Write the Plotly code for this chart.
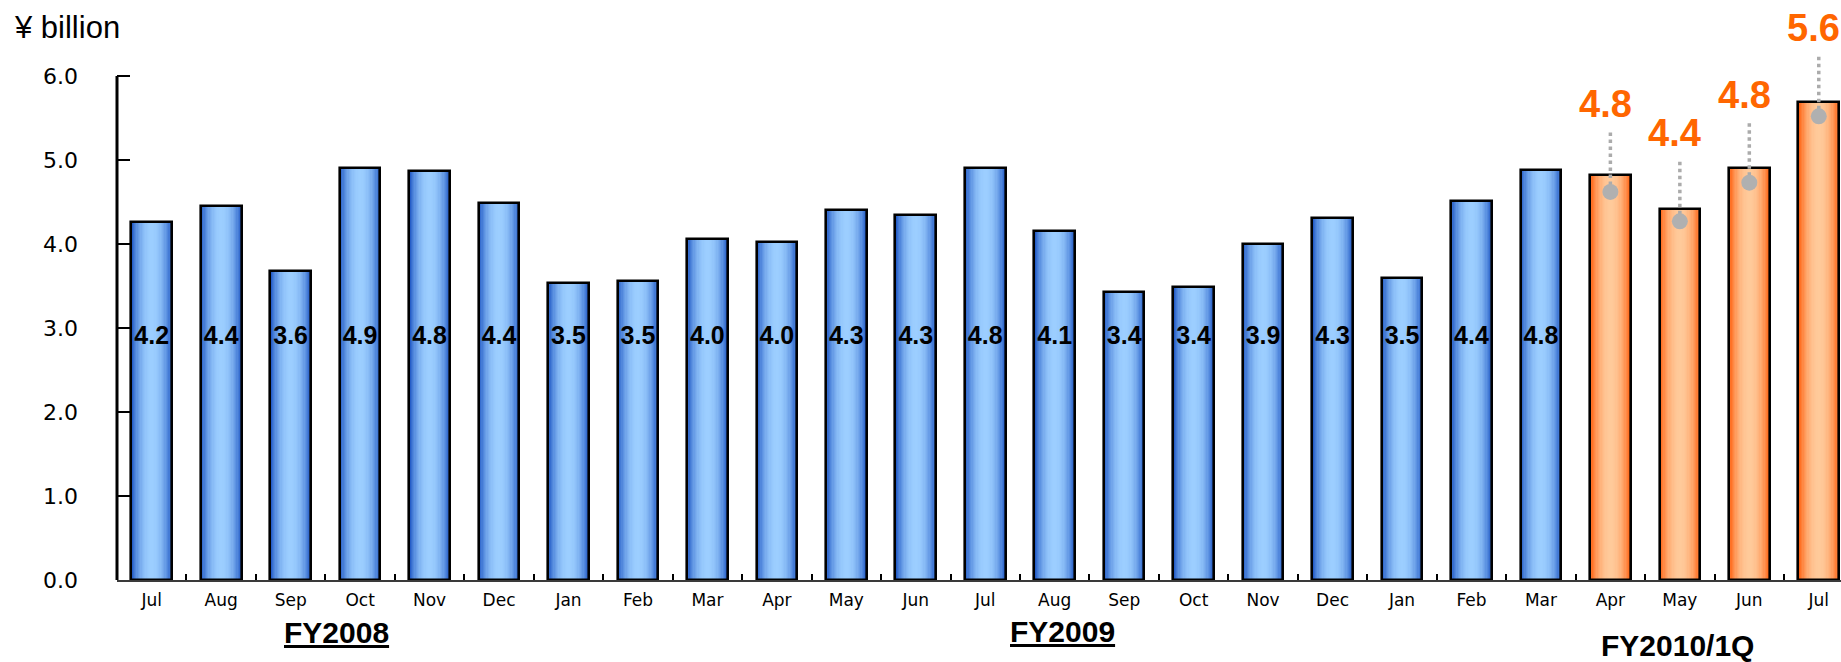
import plotly.graph_objects as go

# ---------------- data ----------------
months = ["Jul", "Aug", "Sep", "Oct", "Nov", "Dec", "Jan", "Feb", "Mar",
          "Apr", "May", "Jun", "Jul", "Aug", "Sep", "Oct", "Nov", "Dec", "Jan", "Feb", "Mar",
          "Apr", "May", "Jun", "Jul"]
fiscal = ["FY2008"] * 9 + ["FY2009"] * 12 + ["FY2010/1Q"] * 4
bar_values = [4.26, 4.45, 3.68, 4.91, 4.87, 4.49, 3.54, 3.56, 4.06,
              4.02, 4.40, 4.34, 4.91, 4.15, 3.43, 3.49, 4.00, 4.31, 3.60, 4.51, 4.88,
              4.82, 4.42, 4.91, 5.69]
reported_values = [4.2, 4.4, 3.6, 4.9, 4.8, 4.4, 3.5, 3.5, 4.0,
                   4.0, 4.3, 4.3, 4.8, 4.1, 3.4, 3.4, 3.9, 4.3, 3.5, 4.4, 4.8,
                   4.8, 4.4, 4.8, 5.6]
point_values = [None] * 21 + [4.62, 4.27, 4.73, 5.52]
group_labels = ["FY2008", "FY2009", "FY2010/1Q"]
yticks = [0, 1, 2, 3, 4, 5, 6]

# ---------------- style ----------------
BAR_W = 0.585
EDGE = {"blue": (38, 94, 200), "orange": (255, 100, 20)}
CENTER = {"blue": (156, 206, 255), "orange": (255, 202, 154)}
N_LAYERS = 16
LABEL_Y = 2.88
STEM = 0.72
LABEL_OFFSET = 1.05
FONT_WIDE = "DejaVu Sans"
FONT_BOLD = "Liberation Sans"

x = list(range(len(months)))
kind = ["orange" if f == "FY2010/1Q" else "blue" for f in fiscal]


def mix(c1, c2, t):
    return "rgb(%d,%d,%d)" % tuple(round(a + (b - a) * t) for a, b in zip(c1, c2))


fig = go.Figure()

# gradient bars: nested overlay layers
for k in range(N_LAYERS):
    f = 1 - k / N_LAYERS
    g = f ** 2.2
    colors = [mix(CENTER[c], EDGE[c], g) for c in kind]
    fig.add_bar(x=x, y=bar_values, width=BAR_W * f,
                marker=dict(color=colors, line=dict(width=0)),
                hoverinfo="skip", showlegend=False)

# outline
fig.add_bar(x=x, y=bar_values, width=BAR_W,
            marker=dict(color="rgba(0,0,0,0)", line=dict(color="black", width=2.6)),
            hoverinfo="skip", showlegend=False)

# inner labels for blue bars
bx = [xi for xi, c in zip(x, kind) if c == "blue"]
bt = ["%.1f" % v for v, c in zip(reported_values, kind) if c == "blue"]
fig.add_scatter(x=bx, y=[LABEL_Y] * len(bx), mode="text", text=bt,
                textposition="middle center",
                textfont=dict(family=FONT_BOLD, size=25, color="black", weight="bold"),
                hoverinfo="skip", showlegend=False, cliponaxis=False)

# dotted stems for orange bars
ox = [xi for xi, p in zip(x, point_values) if p is not None]
op = [p for p in point_values if p is not None]
ot = ["%.1f" % v for v, p in zip(reported_values, point_values) if p is not None]
sx, sy = [], []
for xi, p in zip(ox, op):
    sx += [xi, xi, None]
    sy += [p, p + STEM, None]
fig.add_scatter(x=sx, y=sy, mode="lines",
                line=dict(color="#ababab", width=3.5, dash="dot"),
                hoverinfo="skip", showlegend=False)
fig.add_scatter(x=ox, y=op, mode="markers",
                marker=dict(size=16, color="#b0b0b0", line=dict(width=0)),
                hoverinfo="skip", showlegend=False, cliponaxis=False)
for xi, p, t in zip(ox, op, ot):
    fig.add_annotation(x=xi, y=p + LABEL_OFFSET, xref="x", yref="y", text=t,
                       showarrow=False, xanchor="center", yanchor="middle", xshift=-5,
                       font=dict(family=FONT_BOLD, size=38, color="#ff6600", weight="bold"))

# y axis line only up to 6.0
fig.add_shape(type="line", xref="paper", x0=0, x1=0, yref="y", y0=0, y1=max(yticks),
              line=dict(color="black", width=3))

# fiscal group labels
group_pos = {"FY2008": (2.66, -52, True), "FY2009": (13.11, -51, True),
             "FY2010/1Q": (21.96, -65, False)}
for name in group_labels:
    gx, ys, ul = group_pos[name]
    fig.add_annotation(x=gx, xref="x", y=0, yref="paper", yshift=ys,
                       text=("<u>%s</u>" % name) if ul else name, showarrow=False,
                       xanchor="center", yanchor="middle",
                       font=dict(family=FONT_BOLD, size=30, color="black", weight="bold"))

fig.add_annotation(x=0, xref="paper", xshift=-105, xanchor="left",
                   y=1, yref="paper", yshift=-27, yanchor="middle",
                   text="¥ billion", showarrow=False,
                   font=dict(family=FONT_BOLD, size=31, color="black"))

fig.update_layout(
    width=1841, height=662,
    margin=dict(l=117, r=0, t=0, b=82),
    paper_bgcolor="white", plot_bgcolor="white",
    barmode="overlay", bargap=0, showlegend=False,
    xaxis=dict(range=[-0.5, 24.32], tickmode="array", tickvals=x, ticktext=months,
               ticks="", showgrid=False, zeroline=False,
               showline=True, linecolor="#3a3a3a", linewidth=2,
               tickfont=dict(family=FONT_WIDE, size=17, color="black"),
               ticklabelstandoff=4,
               minor=dict(tick0=0.5, dtick=1, ticks="inside", ticklen=6,
                          tickwidth=2, tickcolor="black", showgrid=False)),
    yaxis=dict(range=[0, 6.905], tickmode="array", tickvals=yticks,
               ticktext=["%.1f" % v for v in yticks],
               ticks="inside", ticklen=13, tickwidth=2, tickcolor="black",
               showgrid=False, zeroline=False, showline=False,
               tickfont=dict(family=FONT_WIDE, size=22, color="black"),
               ticklabelstandoff=38),
)

fig.write_html("out.html")
